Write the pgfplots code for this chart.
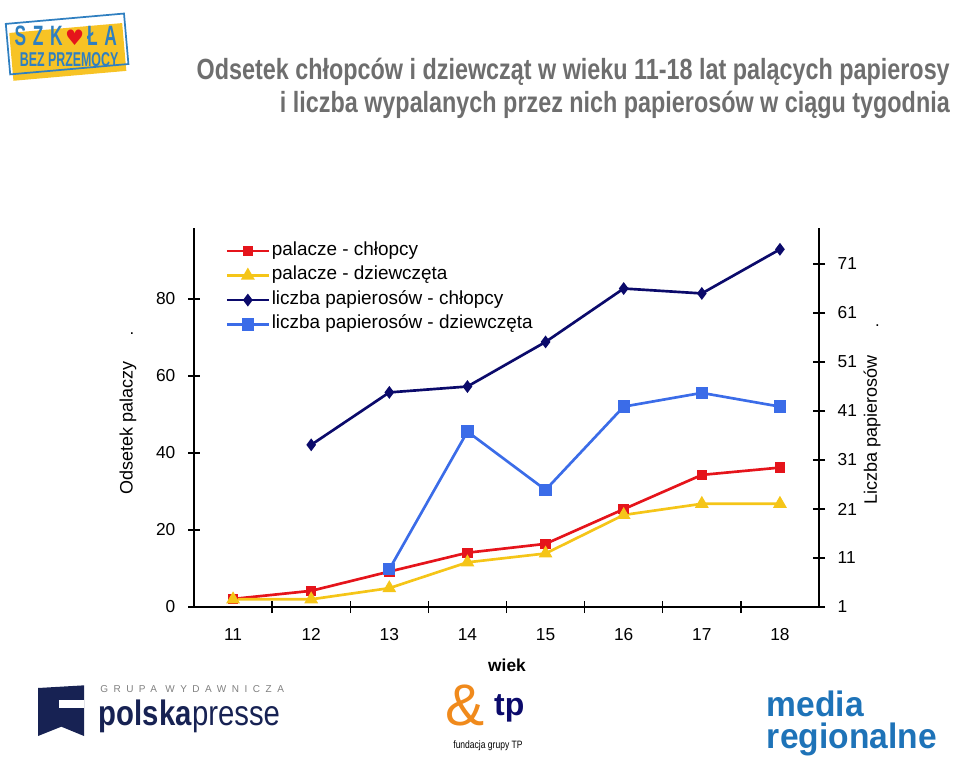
\documentclass[border=0pt]{standalone}
\usepackage{fontspec}
\setmainfont{Liberation Sans}
\newfontfamily\narrowfont[FakeStretch=0.80]{Liberation Sans}
\newfontfamily\ppfont[FakeStretch=0.83]{Liberation Sans}
\newfontfamily\badgefont[FakeStretch=0.62]{Liberation Sans}
\newfontfamily\mrfont[FakeStretch=0.95]{Liberation Sans}
\newfontfamily\spacedfont[LetterSpace=55]{Liberation Sans}
\newfontfamily\symfont{DejaVu Sans}
\usepackage{pgfplots}
\pgfplotsset{compat=1.18}
\definecolor{cred}{HTML}{E5141B}
\definecolor{cyellow}{HTML}{F5C518}
\definecolor{cnavy}{HTML}{0B0A6B}
\definecolor{cblue}{HTML}{3B6CE8}
\definecolor{ctitle}{HTML}{6E6E6E}
\definecolor{cbadge}{HTML}{F7C325}
\definecolor{cbadgeblue}{HTML}{2F7FC0}
\definecolor{cpp}{HTML}{172253}
\definecolor{cmr}{HTML}{1E73B8}
\definecolor{ctp}{HTML}{F08A1C}

\pgfplotstableread{
x y
11 2.1
12 4.2
13 9.2
14 14.1
15 16.4
16 25.4
17 34.3
18 36.2
}\boys
\pgfplotstableread{
x y
11 2.0
12 2.0
13 4.9
14 11.6
15 13.9
16 23.9
17 26.8
18 26.8
}\girls
\pgfplotstableread{
x y
12 34.1
13 44.8
14 46.0
15 55.1
16 66.0
17 65.0
18 74.0
}\cigboys
\pgfplotstableread{
x y
13 8.7
14 36.8
15 24.9
16 41.9
17 44.7
18 41.9
}\ciggirls

\begin{document}
\begin{tikzpicture}
\path[use as bounding box] (0pt,0pt) rectangle (720pt,-568.5pt);

% Title
\node[anchor=base east, text=ctitle, inner sep=0pt] at (712.5pt,-59.25pt)
  {\narrowfont\bfseries\fontsize{21.9}{26}\selectfont Odsetek chłopców i dziewcząt w wieku 11-18 lat palących papierosy};
\node[anchor=base east, text=ctitle, inner sep=0pt] at (712.5pt,-84pt)
  {\narrowfont\bfseries\fontsize{21.9}{26}\selectfont i liczba wypalanych przez nich papierosów w ciągu tygodnia};

% Logos (approximate)
\begin{scope}[shift={(50pt,-35pt)}, rotate=5]
  \fill[cbadge] (-42pt,-22pt) rectangle (43pt,14pt);
  \draw[cbadgeblue, line width=1.3pt] (-44pt,-17pt) rectangle (45pt,21pt);
  \node[text=cbadgeblue, inner sep=0pt] at (0pt,8.5pt) {\badgefont\bfseries\fontsize{21}{21}\selectfont S\hspace{5pt}Z\hspace{5pt}K\hspace{2pt}\smash{\textcolor{cred}{\symfont\fontsize{16}{16}\selectfont ♥}}\hspace{2pt}Ł\hspace{5pt}A};
  \node[text=cbadgeblue, inner sep=0pt] at (1pt,-9.5pt) {\badgefont\bfseries\fontsize{15}{15}\selectfont BEZ PRZEMOCY};
\end{scope}

\fill[cpp] (28.5pt,-516pt) -- (63pt,-514pt) -- (63pt,-552pt) -- (46pt,-545pt) -- (28.5pt,-552pt) -- cycle;
\fill[white] (44pt,-525pt) rectangle (63pt,-531pt);
\node[anchor=west, text=gray, inner sep=0pt] at (75pt,-516.5pt) {\spacedfont\fontsize{7.5}{8}\selectfont GRUPA WYDAWNICZA};
\node[anchor=base west, text=cpp, inner sep=0pt] at (74pt,-544pt) {\ppfont\fontsize{26.5}{28}\selectfont \textbf{polska}presse};

\node[text=ctp, inner sep=0pt] at (349pt,-529pt) {\fontsize{44}{44}\selectfont\&};
\node[text=cnavy, inner sep=0pt] at (382pt,-531pt) {\bfseries\fontsize{24}{24}\selectfont tp};
\node[text=black, inner sep=0pt] at (366pt,-559pt) {\narrowfont\fontsize{8}{8}\selectfont fundacja grupy TP};

\node[anchor=base west, text=cmr, inner sep=0pt] at (575pt,-537pt) {\mrfont\bfseries\fontsize{26.5}{28}\selectfont media};
\node[anchor=base west, text=cmr, inner sep=0pt] at (575pt,-561.5pt) {\mrfont\bfseries\fontsize{26.5}{28}\selectfont regionalne};

% Axis labels
\node[rotate=90, inner sep=0pt] at (96pt,-321pt) {\fontsize{13.5}{16}\selectfont Odsetek palaczy};
\node[inner sep=0pt] at (99pt,-250pt) {\fontsize{12.5}{15}\selectfont .};
\node[rotate=90, inner sep=0pt] at (654pt,-322.5pt) {\fontsize{13.5}{16}\selectfont Liczba papierosów};
\node[inner sep=0pt] at (658pt,-244pt) {\fontsize{12.5}{15}\selectfont .};
\node[inner sep=0pt] at (380.25pt,-498.75pt) {\bfseries\fontsize{13}{15}\selectfont wiek};

\pgfplotsset{
  common/.style={
    at={(145.5pt,-455.25pt)}, anchor=south west,
    scale only axis, width=468.75pt, height=284.25pt,
    xmin=10.5, xmax=18.5,
    tick align=center,
    major tick length=9pt, minor tick length=9pt,
    axis line style={black, line width=1.1pt},
    tick style={black, line width=1pt},
    ticklabel style={font=\fontsize{13}{15}\selectfont},
    /pgf/number format/assume math mode=true,
    clip=false,
  },
}

\begin{axis}[common,
  ymin=0, ymax=98.4,
  axis x line*=bottom, axis y line*=left,
  xtick={11,...,18},
  minor xtick={11.5,12.5,...,17.5},
  major x tick style={draw=none},
  ytick={0,20,...,80},
  xticklabel shift=8pt, yticklabel shift=6pt,
]
\addplot[cred, line width=2pt, mark=square*, mark size=2.9pt, mark options={solid}] table[x=x,y=y] {\boys};
\addplot[cyellow, line width=2pt, mark=triangle*, mark size=4pt, mark options={solid}] table[x=x,y=y] {\girls};
\end{axis}

\begin{axis}[common,
  ymin=1, ymax=78.35,
  axis x line=none, axis y line*=right,
  ytick={1,11,...,71},
  yticklabel shift=6pt,
  legend cell align=left,
  legend image code/.code={\draw[mark repeat=2,mark phase=2] plot coordinates {(0pt,0pt)(15.75pt,0pt)(31.5pt,0pt)};},
  legend style={draw=none, fill=none, at={(0.05,0.968)}, anchor=north west,
    inner sep=0pt, row sep=2.5pt, column sep=0pt,
    nodes={inner sep=1.2pt, text height=10pt, text depth=3.5pt},
    font=\fontsize{14.2}{16}\selectfont},
]
\addlegendimage{cred, line width=2pt, mark=square*, mark size=2.9pt}
\addlegendentry{palacze - chłopcy}
\addlegendimage{cyellow, line width=2pt, mark=triangle*, mark size=4pt}
\addlegendentry{palacze - dziewczęta}
\addplot[cnavy, line width=2pt, mark=diamond*, mark size=3.2pt] table[x=x,y=y] {\cigboys};
\addlegendentry{liczba papierosów - chłopcy}
\addplot[cblue, line width=2pt, mark=square*, mark size=3.6pt] table[x=x,y=y] {\ciggirls};
\addlegendentry{liczba papierosów - dziewczęta}
\end{axis}
\end{tikzpicture}
\end{document}
